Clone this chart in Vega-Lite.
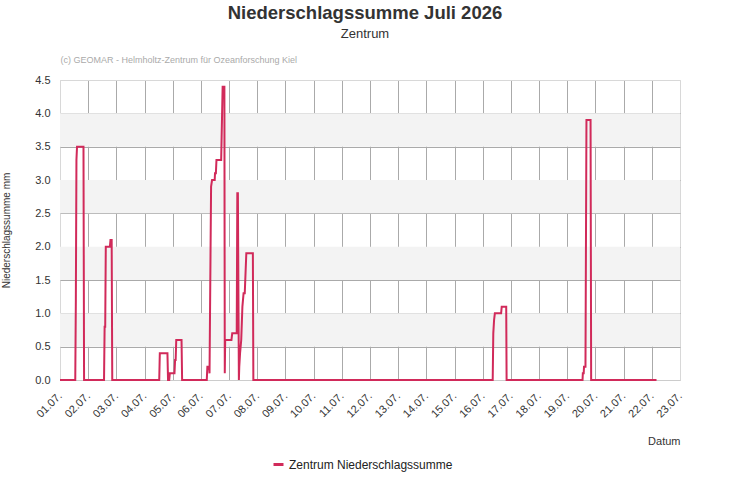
{
  "$schema": "https://vega.github.io/schema/vega-lite/v6.json",
  "width": 620,
  "height": 300,
  "autosize": {"type": "none"},
  "padding": {"left": 60, "top": 80, "right": 51, "bottom": 120},
  "background": "white",
  "title": {
    "text": "Niederschlagssumme Juli 2026",
    "subtitle": "Zentrum",
    "anchor": "middle",
    "frame": "group",
    "dx": -5,
    "offset": 14,
    "font": "Liberation Sans",
    "fontSize": 18.5,
    "fontWeight": "bold",
    "color": "#333333",
    "subtitleFont": "Liberation Sans",
    "subtitleFontSize": 13,
    "subtitleColor": "#333333",
    "subtitlePadding": 6
  },
  "config": {
    "font": "Liberation Sans",
    "view": {"stroke": "#d8d8d8", "strokeWidth": 1},
    "axisY": {
      "values": [0, 0.5, 1, 1.5, 2, 2.5, 3, 3.5, 4, 4.5],
      "format": ".1f",
      "labelFontSize": 11,
      "labelColor": "#333333",
      "labelPadding": 10,
      "ticks": false,
      "domain": false,
      "grid": true,
      "gridColor": {"condition": {"test": "datum.value == 0 || datum.value == 4.5", "value": "#d8d8d8"}, "value": "#aaaaaa"},
      "titleFontSize": 10,
      "titleFontWeight": "normal",
      "titleColor": "#333333",
      "titlePadding": 23
    }
  },
  "datasets": {
    "bands": [
      {"lo": 3.5, "hi": 4.0},
      {"lo": 2.5, "hi": 3.0},
      {"lo": 1.5, "hi": 2.0},
      {"lo": 0.5, "hi": 1.0}
    ],
    "rain": [
      {"t": "2026-07-01T00:00", "v": 0},
      {"t": "2026-07-01T13:00", "v": 0},
      {"t": "2026-07-01T13:30", "v": 1.2},
      {"t": "2026-07-01T14:00", "v": 3.3},
      {"t": "2026-07-01T14:30", "v": 3.5},
      {"t": "2026-07-01T20:00", "v": 3.5},
      {"t": "2026-07-01T20:30", "v": 0},
      {"t": "2026-07-02T13:30", "v": 0},
      {"t": "2026-07-02T14:00", "v": 0.8},
      {"t": "2026-07-02T14:30", "v": 0.8},
      {"t": "2026-07-02T15:00", "v": 2.0},
      {"t": "2026-07-02T18:30", "v": 2.0},
      {"t": "2026-07-02T19:00", "v": 2.1},
      {"t": "2026-07-02T20:00", "v": 2.1},
      {"t": "2026-07-02T20:30", "v": 0},
      {"t": "2026-07-04T12:30", "v": 0},
      {"t": "2026-07-04T13:00", "v": 0.4},
      {"t": "2026-07-04T19:30", "v": 0.4},
      {"t": "2026-07-04T20:00", "v": 0},
      {"t": "2026-07-04T21:00", "v": 0},
      {"t": "2026-07-04T21:30", "v": 0.1},
      {"t": "2026-07-05T01:30", "v": 0.1},
      {"t": "2026-07-05T02:00", "v": 0.3},
      {"t": "2026-07-05T02:30", "v": 0.3},
      {"t": "2026-07-05T03:00", "v": 0.6},
      {"t": "2026-07-05T07:30", "v": 0.6},
      {"t": "2026-07-05T08:00", "v": 0},
      {"t": "2026-07-06T05:00", "v": 0},
      {"t": "2026-07-06T05:30", "v": 0.2},
      {"t": "2026-07-06T07:00", "v": 0.2},
      {"t": "2026-07-06T07:20", "v": 0.1},
      {"t": "2026-07-06T07:40", "v": 0.8},
      {"t": "2026-07-06T08:40", "v": 2.9},
      {"t": "2026-07-06T09:30", "v": 3.0},
      {"t": "2026-07-06T11:45", "v": 3.0},
      {"t": "2026-07-06T12:00", "v": 3.1},
      {"t": "2026-07-06T12:45", "v": 3.1},
      {"t": "2026-07-06T13:15", "v": 3.3},
      {"t": "2026-07-06T17:15", "v": 3.3},
      {"t": "2026-07-06T18:30", "v": 4.4},
      {"t": "2026-07-06T20:00", "v": 4.4},
      {"t": "2026-07-06T20:20", "v": 0.1},
      {"t": "2026-07-06T20:40", "v": 0.6},
      {"t": "2026-07-07T02:00", "v": 0.6},
      {"t": "2026-07-07T02:40", "v": 0.7},
      {"t": "2026-07-07T06:30", "v": 0.7},
      {"t": "2026-07-07T07:00", "v": 2.8},
      {"t": "2026-07-07T07:30", "v": 2.8},
      {"t": "2026-07-07T08:20", "v": 0},
      {"t": "2026-07-07T08:40", "v": 0.2},
      {"t": "2026-07-07T09:20", "v": 0.4},
      {"t": "2026-07-07T10:20", "v": 0.6},
      {"t": "2026-07-07T11:20", "v": 1.1},
      {"t": "2026-07-07T12:20", "v": 1.3},
      {"t": "2026-07-07T13:20", "v": 1.3},
      {"t": "2026-07-07T14:40", "v": 1.9},
      {"t": "2026-07-07T20:15", "v": 1.9},
      {"t": "2026-07-07T20:40", "v": 0},
      {"t": "2026-07-16T08:30", "v": 0},
      {"t": "2026-07-16T09:00", "v": 0.7},
      {"t": "2026-07-16T09:40", "v": 0.9},
      {"t": "2026-07-16T10:20", "v": 1.0},
      {"t": "2026-07-16T15:40", "v": 1.0},
      {"t": "2026-07-16T16:10", "v": 1.1},
      {"t": "2026-07-16T20:00", "v": 1.1},
      {"t": "2026-07-16T20:20", "v": 0},
      {"t": "2026-07-19T13:00", "v": 0},
      {"t": "2026-07-19T13:15", "v": 0.1},
      {"t": "2026-07-19T14:00", "v": 0.1},
      {"t": "2026-07-19T14:15", "v": 0.2},
      {"t": "2026-07-19T15:30", "v": 0.2},
      {"t": "2026-07-19T16:20", "v": 3.9},
      {"t": "2026-07-19T19:50", "v": 3.9},
      {"t": "2026-07-19T20:20", "v": 0},
      {"t": "2026-07-22T04:00", "v": 0}
    ]
  },
  "layer": [
    {
      "data": {"name": "bands"},
      "mark": {"type": "rect", "color": "#f3f3f3"},
      "encoding": {
        "y": {"field": "lo", "type": "quantitative", "scale": {"domain": [0, 4.5], "nice": false, "zero": false}, "title": "Niederschlagssumme mm"},
        "y2": {"field": "hi"}
      }
    },
    {
      "data": {"name": "rain"},
      "mark": {"type": "line", "opacity": 0},
      "encoding": {
        "x": {
          "field": "t",
          "type": "temporal",
          "scale": {"domain": [{"year": 2026, "month": "jul", "date": 1}, {"year": 2026, "month": "jul", "date": 23}]},
          "axis": {
            "orient": "top",
            "title": "(c) GEOMAR - Helmholtz-Zentrum für Ozeanforschung Kiel",
            "labels": false,
            "ticks": false,
            "domain": false,
            "grid": false,
            "titleAnchor": "start",
            "titleAlign": "left",
            "titleFontSize": 9,
            "titleFontWeight": "normal",
            "titleColor": "#aaaaaa",
            "titlePadding": 16
          }
        },
        "y": {"field": "v", "type": "quantitative", "title": "Niederschlagssumme mm"}
      }
    },
    {
      "data": {"name": "rain"},
      "mark": {"type": "line", "strokeWidth": 2, "interpolate": "linear"},
      "encoding": {
        "x": {
          "field": "t",
          "type": "temporal",
          "scale": {"domain": [{"year": 2026, "month": "jul", "date": 1}, {"year": 2026, "month": "jul", "date": 23}]},
          "axis": {
            "format": "%d.%m.",
            "formatType": "time",
            "tickCount": {"interval": "day", "step": 1},
            "labelAngle": -45,
            "labelAlign": "right",
            "labelBaseline": "middle",
            "labelFontSize": 11,
            "labelColor": "#333333",
            "labelPadding": 14,
            "labelOverlap": false,
            "labelFlush": false,
            "ticks": false,
            "grid": true,
            "gridColor": {"condition": {"test": "datum.value <= datetime(2026,6,1,1) || datum.value >= datetime(2026,6,22,23)", "value": "#d8d8d8"}, "value": "#aaaaaa"},
            "domain": true,
            "domainColor": "#cccccc",
            "title": "Datum",
            "titleAnchor": "end",
            "titleFontSize": 11,
            "titleFontWeight": "normal",
            "titleColor": "#333333",
            "titlePadding": 16
          }
        },
        "y": {
          "field": "v",
          "type": "quantitative",
          "scale": {"domain": [0, 4.5], "nice": false},
          "title": "Niederschlagssumme mm"
        },
        "color": {
          "datum": "Zentrum Niederschlagssumme",
          "type": "nominal",
          "scale": {"range": ["#d12a5a"]},
          "legend": {
            "orient": "none",
            "legendX": 212,
            "legendY": 378,
            "title": null,
            "direction": "horizontal",
            "symbolType": "stroke",
            "symbolStrokeWidth": 3,
            "symbolSize": 100,
            "labelFontSize": 12,
            "labelLimit": 400,
            "labelColor": "#222222"
          }
        }
      }
    }
  ],
  "resolve": {"axis": {"x": "independent"}}
}
